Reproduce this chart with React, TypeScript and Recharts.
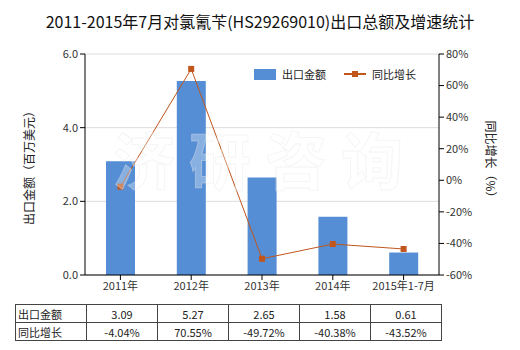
import { ComposedChart, Bar, Line, XAxis, YAxis, CartesianGrid } from "recharts";

const categories = ["2011年", "2012年", "2013年", "2014年", "2015年1-7月"];
const exportValues = [3.09, 5.27, 2.65, 1.58, 0.61];
const growthRates = [-4.04, 70.55, -49.72, -40.38, -43.52];
const leftTicks = [0, 2, 4, 6];
const rightTicks = [-60, -40, -20, 0, 20, 40, 60, 80];

const BAR_COLOR = "#558ed5";
const LINE_COLOR = "#c0561b";
const FONT = "'Noto Sans CJK SC', 'Noto Sans', sans-serif";

const data = categories.map((name, i) => ({
    name,
    amount: exportValues[i],
    growth: growthRates[i],
}));

const LegendContent = () => (
    <div style={{ display: "flex", alignItems: "center", fontSize: 11, color: "#222", fontFamily: FONT }}>
        <div style={{ width: 22, height: 11, background: BAR_COLOR, marginRight: 6 }} />
        <span style={{ marginRight: 18 }}>出口金额</span>
        <svg width={22} height={10} style={{ marginRight: 6 }}>
            <line x1={0} y1={5} x2={22} y2={5} stroke={LINE_COLOR} strokeWidth={2} />
            <rect x={8} y={2} width={6} height={6} fill={LINE_COLOR} />
        </svg>
        <span>同比增长</span>
    </div>
);

const tickStyle = { fontSize: 11, fill: "#333", fontFamily: FONT };

export default function App() {
    return (
        <div style={{ position: "absolute", left: 0, top: 0, width: 520, height: 350, background: "#fff", fontFamily: FONT }}>
            <div style={{ position: "absolute", top: 9, width: 520, textAlign: "center", fontSize: 16, color: "#111" }}>
                2011-2015年7月对氯氰苄(HS29269010)出口总额及增速统计
            </div>

            <ComposedChart
                width={520}
                height={300}
                data={data}
                margin={{ top: 54, right: 0, bottom: 0, left: 0 }}
                style={{ position: "absolute", left: 0, top: 0 }}
            >
                <CartesianGrid yAxisId="left" vertical={false} stroke="#dcdcdc" />
                <XAxis
                    dataKey="name"
                    tick={tickStyle}
                    tickLine={{ stroke: "#000" }}
                    axisLine={{ stroke: "#000" }}
                    tickSize={5}
                    height={25}
                />
                <YAxis
                    yAxisId="left"
                    domain={[0, 6]}
                    ticks={leftTicks}
                    tickFormatter={(v: number) => v.toFixed(1)}
                    tick={tickStyle}
                    tickLine={{ stroke: "#000" }}
                    axisLine={{ stroke: "#000" }}
                    tickSize={5}
                    width={85}
                    interval={0}
                />
                <YAxis
                    yAxisId="right"
                    orientation="right"
                    domain={[-60, 80]}
                    ticks={rightTicks}
                    tickFormatter={(v: number) => `${v}%`}
                    tick={tickStyle}
                    tickLine={{ stroke: "#000" }}
                    axisLine={{ stroke: "#000" }}
                    tickSize={5}
                    width={81}
                    interval={0}
                />
                <Bar yAxisId="left" dataKey="amount" fill={BAR_COLOR} barSize={29} isAnimationActive={false} />
                <Line
                    yAxisId="right"
                    dataKey="growth"
                    stroke={LINE_COLOR}
                    strokeWidth={1}
                    dot={(p: any) => (
                        <rect key={p.index} x={p.cx - 3} y={p.cy - 3} width={6} height={6} fill={LINE_COLOR} />
                    )}
                    isAnimationActive={false}
                />
            </ComposedChart>

            <div style={{ position: "absolute", left: 254, top: 66 }}>
                <LegendContent />
            </div>

            <svg width={520} height={350} style={{ position: "absolute", left: 0, top: 0, pointerEvents: "none" }}>
                <text
                    x={265}
                    y={185}
                    textAnchor="middle"
                    fontSize={62}
                    fontWeight="bold"
                    fill="#ffffff"
                    fillOpacity={0.3}
                    stroke="#e6e6e6"
                    strokeOpacity={0.4}
                    letterSpacing={14}
                    fontFamily={FONT}
                >
                    济研咨询
                </text>
                <text
                    transform="translate(34,165) rotate(-90)"
                    textAnchor="middle"
                    fontSize={12}
                    fill="#222"
                    fontFamily={FONT}
                >
                    出口金额（百万美元）
                </text>
                <text
                    transform="translate(486,162) rotate(90)"
                    textAnchor="middle"
                    fontSize={12}
                    fill="#222"
                    fontFamily={FONT}
                >
                    同比增长（%）
                </text>
            </svg>

            <table
                style={{
                    position: "absolute",
                    left: 15,
                    top: 304,
                    borderCollapse: "collapse",
                    fontSize: 11,
                    color: "#222",
                    fontFamily: FONT,
                }}
            >
                <tbody>
                    <tr>
                        <td style={{ border: "1px solid #444", width: 66, height: 17, padding: "0 2px" }}>出口金额</td>
                        {exportValues.map((v, i) => (
                            <td key={i} style={{ border: "1px solid #444", width: 70, height: 17, padding: 0, textAlign: "center" }}>
                                {v.toFixed(2)}
                            </td>
                        ))}
                    </tr>
                    <tr>
                        <td style={{ border: "1px solid #444", width: 66, height: 17, padding: "0 2px" }}>同比增长</td>
                        {growthRates.map((v, i) => (
                            <td key={i} style={{ border: "1px solid #444", width: 70, height: 17, padding: 0, textAlign: "center" }}>
                                {v.toFixed(2)}%
                            </td>
                        ))}
                    </tr>
                </tbody>
            </table>
        </div>
    );
}
